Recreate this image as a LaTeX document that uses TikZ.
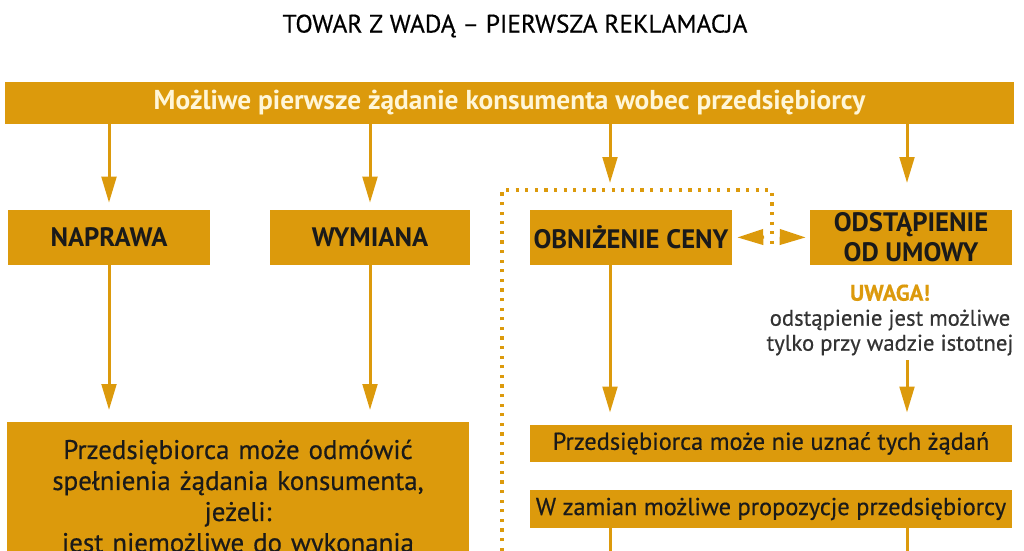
\documentclass[tikz,border=0pt]{standalone}
\usepackage{fontspec}
\setmainfont{PT Sans}
\newfontfamily\medfont[FakeBold=0.5]{PT Sans}
\usetikzlibrary{arrows.meta,positioning}
\definecolor{Gold}{HTML}{DC9A0C}
\definecolor{Cream}{HTML}{FFF6D8}
\definecolor{Ink}{HTML}{1A1A1A}
\definecolor{Grey}{HTML}{333333}
\tikzset{box/.style={fill=Gold,text=Ink,font=\bfseries\fontsize{20}{22.5}\selectfont,minimum width=151.5pt,minimum height=41.25pt,align=center,inner sep=0pt},wide/.style={fill=Gold,text=Ink,font=\medfont\fontsize{18.3}{20}\selectfont,minimum width=361.5pt,minimum height=28pt,align=center,inner sep=0pt},flow/.style={-{Triangle[length=19.5pt,width=11pt]},line width=2.25pt,draw=Gold},plain/.style={line width=2.25pt,draw=Gold},head/.style={-{Triangle[length=19.5pt,width=11.5pt]},line width=2.25pt,draw=Gold},frame/.style={draw=Gold,line width=2.4pt,dash pattern=on 2.4pt off 4.8pt}}

\begin{document}
\begin{tikzpicture}[x=0.75pt,y=-0.75pt]
      \useasboundingbox (0,0) rectangle (1024,550);
      \clip (0,0) rectangle (1024,550);
      \node[font=\medfont\fontsize{19}{20}\selectfont,text=black](t) at (515,26){TOWAR Z WADĄ – PIERWSZA REKLAMACJA};
      \node[fill=Gold,text=Cream,font=\bfseries\fontsize{20.5}{22}\selectfont,minimum width=756.75pt,minimum height=31.5pt,inner sep=0pt](bar) at (509.5,103){Możliwe pierwsze żądanie konsumenta wobec przedsiębiorcy};
      \node[box](n) at (109,237.5){NAPRAWA};
      \node[box,minimum width=150pt](w) at (370,237.5){WYMIANA};
      \node[box](o) at (631,237.5){OBNIŻENIE CENY};
      \node[box](s) at (911,237.5){ODSTĄPIENIE\\OD UMOWY};
      \node[align=center,font=\medfont\fontsize{17}{18.75}\selectfont,text=Grey](note) at (890,320){{\bfseries\color{Gold}UWAGA!}\\odstąpienie jest możliwe\\tylko przy wadzie istotnej};
      \node[fill=Gold,text=Ink,anchor=north,minimum width=345pt,text width=340pt,align=center,font=\medfont\fontsize{20.2}{23.25}\selectfont,inner ysep=13pt](r) at (238,422){Przedsiębiorca może odmówić\\spełnienia żądania konsumenta,\\jeżeli:\\jest niemożliwe do wykonania};
      \node[wide](u) at (771,443.5){Przedsiębiorca może nie uznać tych żądań};
      \node[wide](z) at (771,509){W zamian możliwe propozycje przedsiębiorcy};
      \coordinate(c3) at (610,183);
      \coordinate(c4) at (907,183);
      \coordinate(m) at (772,237);
      \coordinate(b) at (0,570);
      % from the demand bar
      \draw[flow,shorten >=5.25pt](bar.south -| n)--(n.north);
      \draw[flow,shorten >=5.25pt](bar.south -| w)--(w.north);
      \draw[flow](bar.south -| c3)--(c3);
      \draw[flow](bar.south -| c4)--(c4);
      % dotted link between price cut and withdrawal
      \draw[frame](502,570)--(502,190)--(m |- 0,190)--([yshift=-7pt]m);
      \draw[head,shorten >=3.75pt](m)++(-8,0)--(o.east);
      \draw[head,shorten >=3pt](m)++(8,0)--(s.west);
      % downwards
      \draw[flow,shorten >=9pt](n.south)--(n |- r.north);
      \draw[flow,shorten >=9pt](w.south)--(w |- r.north);
      \draw[flow,shorten >=9pt](o.south -| c3)--(u.north -| c3);
      \draw[flow,shorten >=9pt](note.south -| c4)--(u.north -| c4);
      \draw[plain](z.south -| c3)--(c3 |- b);
      \draw[plain](z.south -| c4)--(c4 |- b);
    \end{tikzpicture}
\end{document}
